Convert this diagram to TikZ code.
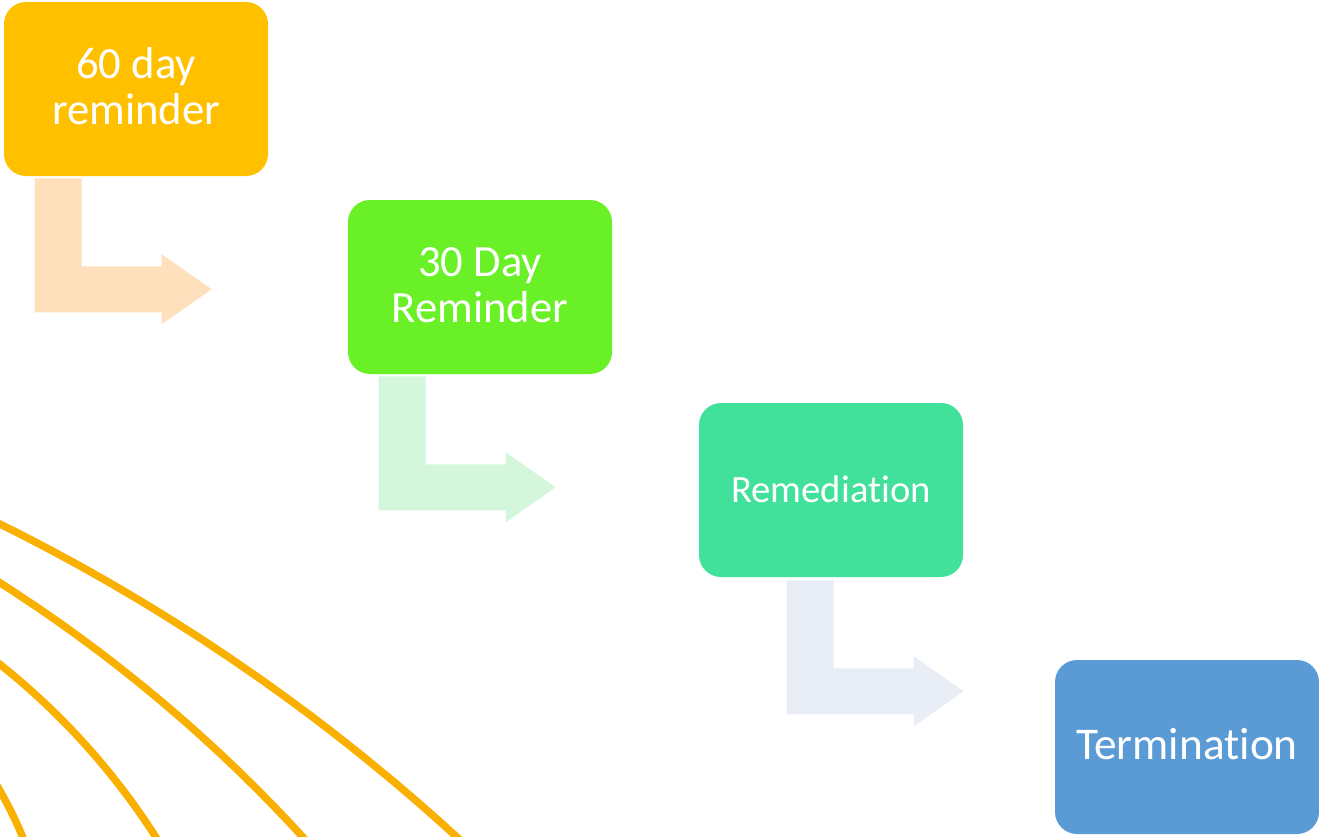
\documentclass[tikz,border=0pt]{standalone}
\usepackage{fontspec}
\setmainfont{Carlito}[Ligatures={NoCommon}]
\usetikzlibrary{calc}
\definecolor{cOrange}{HTML}{FFC000}
\definecolor{cGreen}{HTML}{6AF027}
\definecolor{cTeal}{HTML}{41E09B}
\definecolor{cBlue}{HTML}{5B9BD5}
\definecolor{aPeach}{HTML}{FFE0BC}
\definecolor{aMint}{HTML}{D4F7DC}
\definecolor{aGrey}{HTML}{E8EDF6}
\definecolor{arcOrange}{HTML}{FAB000}
\tikzset{
  stepbox/.style={rectangle, rounded corners=22*0.75pt, minimum width=264*0.75pt,
    minimum height=174*0.75pt, inner sep=0pt},
  steptext/.style={inner sep=0pt, text=white, align=center,
    font=\fontsize{33.5pt}{34.5pt}\selectfont},
  arcline/.style={draw=arcOrange, line width=5.6pt},
  pics/bentarrow/.style={code={
    \fill[#1] (0,0) -- (47,0) -- (47,88) -- (127,88) -- (127,76) -- (177,111)
      -- (127,146) -- (127,134) -- (0,134) -- cycle;
  }}
}
\begin{document}
\begin{tikzpicture}[x=0.75pt,y=-0.75pt]
\useasboundingbox (0,0) rectangle (1319,836);
% decorative arcs
\begin{scope}
\clip (0,0) rectangle (1319,836);
\draw[arcline] plot[domain=-66:-44, samples=60] ({-879+1979*cos(\x)}, {2297+1979*sin(\x)});
\draw[arcline] plot[domain=-60:-40, samples=60] ({-815+1516*cos(\x)}, {1861+1516*sin(\x)});
\draw[arcline] plot[domain=-55:-25, samples=60] ({-442+710*cos(\x)}, {1220+710*sin(\x)});
\draw[arcline] plot[domain=-33:-15, samples=40] ({-348+401*cos(\x)}, {990+401*sin(\x)});
\end{scope}
% boxes
\node[stepbox, fill=cOrange] (b1) at (136,89) {};
\node[stepbox, fill=cGreen] (b2) at (480,287) {};
\node[stepbox, fill=cTeal] (b3) at (831,490) {};
\node[stepbox, fill=cBlue] (b4) at (1187,747) {};
\node[steptext] (t1) at ($(b1)+(0,-3)$) {60 day\\reminder};
\node[steptext] (t2) at ($(b2)+(0,-2)$) {30 Day\\Reminder};
\node[steptext, font=\fontsize{29pt}{31pt}\selectfont] (t3) at ($(b3)+(0,-1)$) {Remediat\kern0pt ion};
\node[steptext, font=\fontsize{34pt}{36pt}\selectfont] (t4) at ($(b4)+(0,-3)$) {Terminat\kern0pt ion};
% bent arrows
\pic at ($(b1.south west)+(31,2)$) {bentarrow=aPeach};
\pic at ($(b2.south west)+(31,2)$) {bentarrow=aMint};
\pic at ($(b3.south west)+(88,3)$) {bentarrow=aGrey};
\end{tikzpicture}
\end{document}
